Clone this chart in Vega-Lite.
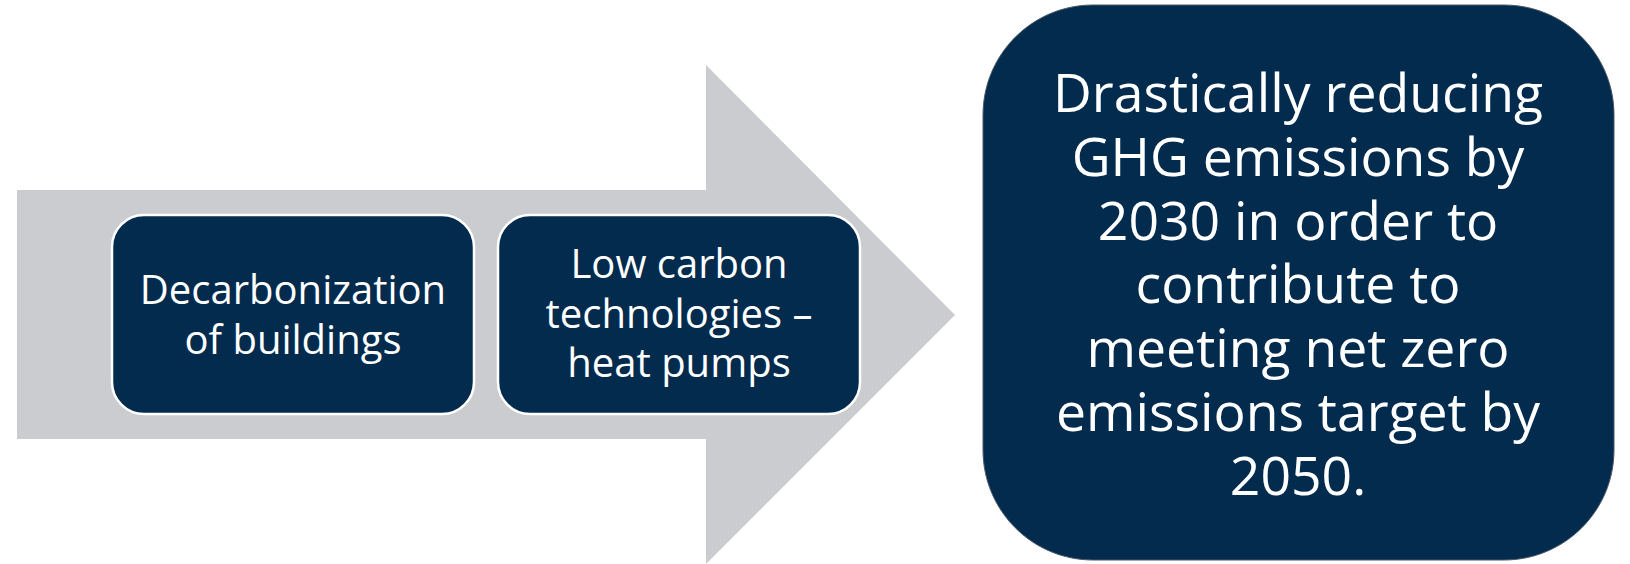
{
  "$schema": "https://vega.github.io/schema/vega-lite/v6.json",
  "width": 1630,
  "height": 564,
  "autosize": {"type": "none"},
  "padding": 0,
  "background": "#ffffff",
  "config": {"view": {"stroke": null}},
  "layer": [
    {
      "data": {"values": [{"part": "shaft", "x": 17, "x2": 707, "y": 190, "y2": 439}]},
      "mark": {"type": "rect", "color": "#CBCCD0"},
      "encoding": {
        "x": {"field": "x", "type": "quantitative", "scale": {"domain": [0, 1630], "nice": false, "zero": false}, "axis": null},
        "x2": {"field": "x2"},
        "y": {"field": "y", "type": "quantitative", "scale": {"domain": [0, 564], "nice": false, "zero": false, "reverse": true}, "axis": null},
        "y2": {"field": "y2"}
      }
    },
    {
      "data": {"values": [{"part": "head", "x": 706, "y": 65, "y2": 564}, {"part": "head", "x": 955, "y": 315, "y2": 315}]},
      "mark": {"type": "area", "color": "#CBCCD0", "interpolate": "linear"},
      "encoding": {
        "x": {"field": "x", "type": "quantitative", "scale": {"domain": [0, 1630], "nice": false, "zero": false}, "axis": null},
        "y": {"field": "y", "type": "quantitative", "scale": {"domain": [0, 564], "nice": false, "zero": false, "reverse": true}, "axis": null},
        "y2": {"field": "y2"}
      }
    },
    {
      "data": {"values": [
        {"box": "Decarbonization", "x": 112, "x2": 474, "y": 215, "y2": 414},
        {"box": "Low carbon", "x": 498, "x2": 860, "y": 215, "y2": 414}
      ]},
      "mark": {"type": "rect", "color": "#022B4E", "cornerRadius": 32, "stroke": "#ffffff", "strokeWidth": 2.5},
      "encoding": {
        "x": {"field": "x", "type": "quantitative", "scale": {"domain": [0, 1630], "nice": false, "zero": false}, "axis": null},
        "x2": {"field": "x2"},
        "y": {"field": "y", "type": "quantitative", "scale": {"domain": [0, 564], "nice": false, "zero": false, "reverse": true}, "axis": null},
        "y2": {"field": "y2"}
      }
    },
    {
      "data": {"values": [{"box": "Goal", "x": 983, "x2": 1614, "y": 5, "y2": 560}]},
      "mark": {"type": "rect", "color": "#022B4E", "cornerRadius": 110, "stroke": "#4a5868", "strokeWidth": 1},
      "encoding": {
        "x": {"field": "x", "type": "quantitative", "scale": {"domain": [0, 1630], "nice": false, "zero": false}, "axis": null},
        "x2": {"field": "x2"},
        "y": {"field": "y", "type": "quantitative", "scale": {"domain": [0, 564], "nice": false, "zero": false, "reverse": true}, "axis": null},
        "y2": {"field": "y2"}
      }
    },
    {
      "data": {"values": [
        {"label": "Decarbonization\nof buildings", "x": 293, "y": 292},
        {"label": "Low carbon\ntechnologies –\nheat pumps", "x": 679, "y": 266}
      ]},
      "mark": {"type": "text", "font": "Open Sans", "fontSize": 40, "lineHeight": 49.5, "lineBreak": "\n", "color": "#ffffff", "align": "center", "baseline": "middle"},
      "encoding": {
        "x": {"field": "x", "type": "quantitative", "scale": {"domain": [0, 1630], "nice": false, "zero": false}, "axis": null},
        "y": {"field": "y", "type": "quantitative", "scale": {"domain": [0, 564], "nice": false, "zero": false, "reverse": true}, "axis": null},
        "text": {"field": "label"}
      }
    },
    {
      "data": {"values": [
        {"label": "Drastically reducing\nGHG emissions by\n2030 in order to\ncontribute to\nmeeting net zero\nemissions target by\n2050.", "x": 1298, "y": 96}
      ]},
      "mark": {"type": "text", "font": "Open Sans", "fontSize": 53.5, "lineHeight": 63.8, "lineBreak": "\n", "color": "#ffffff", "align": "center", "baseline": "middle"},
      "encoding": {
        "x": {"field": "x", "type": "quantitative", "scale": {"domain": [0, 1630], "nice": false, "zero": false}, "axis": null},
        "y": {"field": "y", "type": "quantitative", "scale": {"domain": [0, 564], "nice": false, "zero": false, "reverse": true}, "axis": null},
        "text": {"field": "label"}
      }
    }
  ]
}
